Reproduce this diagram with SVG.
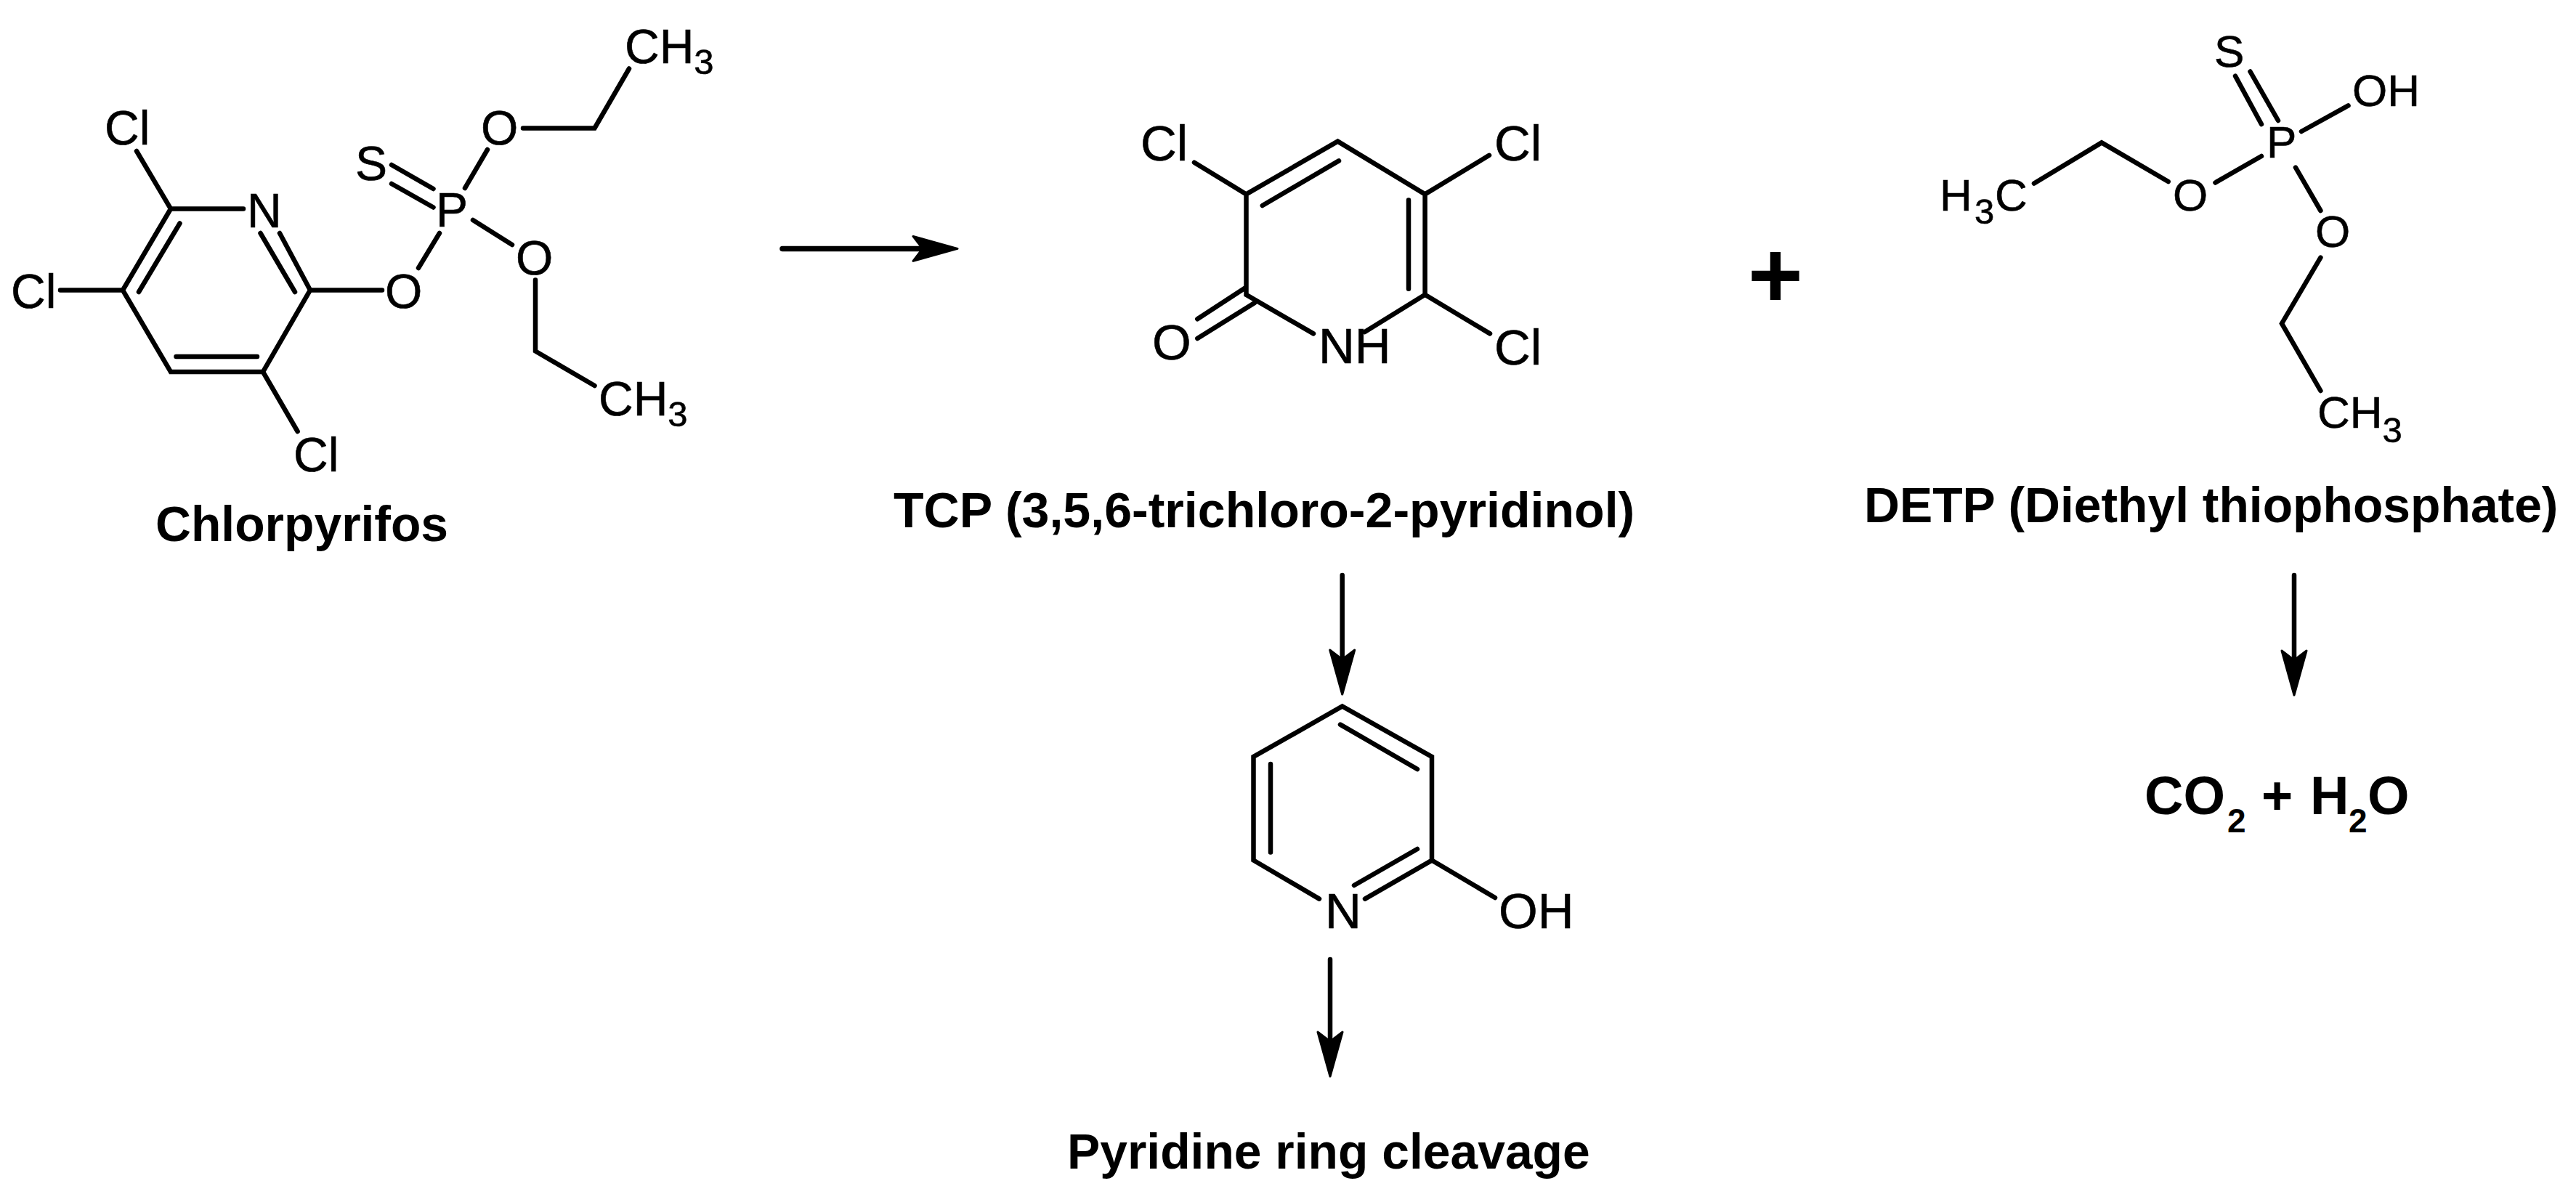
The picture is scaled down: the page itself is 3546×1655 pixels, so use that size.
<svg xmlns="http://www.w3.org/2000/svg" width="3546" height="1655" viewBox="0 0 3546 1655">
<style>
text{font-family:"Liberation Sans",Arial,sans-serif;fill:#000}
.a{font-size:66px;stroke:#000;stroke-width:.6}.b{font-size:62px;stroke:#000;stroke-width:.6}.c{font-size:69px;stroke:#000;stroke-width:.6}
.s{font-size:49px}
.l{font-size:67.8px;font-weight:bold}
.bond{fill:none;stroke:#000;stroke-width:6.5;stroke-linecap:round;stroke-linejoin:miter}
.arrow{fill:none;stroke:#000;stroke-width:6.5;stroke-linecap:round}
</style>
<defs>
<marker id="head" markerUnits="userSpaceOnUse" markerWidth="72" markerHeight="42" viewBox="0 0 72 42" refX="16" refY="21" orient="auto">
<path d="M3,4 L64,21 L3,38 L16,21 Z" fill="#000" stroke="#000" stroke-width="3" stroke-linejoin="round"/>
</marker>
</defs>
<rect width="3546" height="1655" fill="#fff"/>
<g id="chlorpyrifos">
<path class="bond" d="M188,208L235,287.5L335,287.5M235,287.5L169,399.5M247.5,307.5L191,402M83,399.5L169,399.5L235,512L362,512L427,399.5L385,321M242.5,491L354,491M362,512L409.6,594M358.5,321L406,402M427,399.5L526,399.5M576,369L605,321M596.5,260L539,227M596.5,285.5L539,253M640,259L671,206M720,176.5L818.5,176.5L866,94.5M651,303L705,337M737,385.5L737,483.5L818.5,531"/>
<text class="a" x="144" y="199">Cl</text>
<text class="a" x="15" y="424">Cl</text>
<text class="a" x="340" y="313">N</text>
<text class="a" x="600" y="312">P</text>
<text class="a" x="489" y="248">S</text>
<text class="a" x="662" y="199">O</text>
<text class="a" x="860" y="87">CH<tspan class="s" dy="15">3</tspan></text>
<text class="a" x="710" y="378">O</text>
<text class="a" x="530" y="424">O</text>
<text class="a" x="404" y="649">Cl</text>
<text class="a" x="824" y="572">CH<tspan class="s" dy="15">3</tspan></text>
<text class="l" x="214" y="745">Chlorpyrifos</text>
</g>
<g id="tcp">
<path class="bond" d="M1644,223.7L1715.5,267.4L1841.5,194.6L1961.6,267.4L1961.6,405.8L1878.7,457M1737.8,283L1843,221.4M1939,275.4L1939,397.8M2050,213.8L1961.6,267.4M1715.5,267.4L1715.5,405.8L1808,459.4M1714.6,396L1648.3,439.3M1727,417L1648.3,466M1961.6,405.8L2051,459.4"/>
<text class="c" x="1570" y="220.5">Cl</text>
<text class="c" x="2057" y="220.5">Cl</text>
<text class="c" x="1586" y="495">O</text>
<text class="c" x="1815" y="500">NH</text>
<text class="c" x="2057" y="502">Cl</text>
<text class="l" style="font-size:68.1px" x="1230" y="726">TCP (3,5,6-trichloro-2-pyridinol)</text>
</g>
<g id="plus"><text x="2406" y="423" font-size="130" font-weight="bold">+</text></g>
<g id="detp">
<path class="bond" d="M3077,104.6L3113,171M3097.5,98.5L3136,166M3168,181L3232.5,145.4M3113,215L3049.5,251.5M2984.7,250L2893,196.4L2800,252.5M3160,230.6L3194.4,290M3194.4,354.6L3141,445.4L3194.4,538"/>
<text class="b" x="3048" y="92">S</text>
<text class="b" x="3238" y="146.4">OH</text>
<text class="b" x="3120" y="217">P</text>
<text class="b" x="2991" y="290">O</text>
<text class="b" x="2670" y="290">H<tspan class="s" x="2718" dy="18">3</tspan><tspan x="2746" dy="-18">C</tspan></text>
<text class="b" x="3187" y="340">O</text>
<text class="b" x="3190" y="589">CH<tspan class="s" dy="20">3</tspan></text>
<text class="l" x="2566" y="719">DETP (Diethyl thiophosphate)</text>
</g>
<g id="hydroxypyridine">
<path class="bond" d="M1816,1237.6L1725.5,1184.5L1725.5,1042L1847.7,972.5L1971,1042L1971,1184.5L1879,1237.6M1951,1169L1864,1219M1845,997.6L1951,1059M1749,1052L1749,1173.4M1971,1184.5L2058,1236"/>
<text class="c" x="1824" y="1278">N</text>
<text class="c" x="2063" y="1278">OH</text>
</g>
<g id="ring-cleavage"><text class="l" x="1469" y="1608.6">Pyridine ring cleavage</text></g>
<g id="co2-h2o"><text font-size="74" font-weight="bold" x="2952" y="1121">CO<tspan font-size="46" x="3066" dy="25">2</tspan><tspan x="3113" dy="-25">+</tspan><tspan x="3180">H</tspan><tspan font-size="46" x="3233" dy="25">2</tspan><tspan x="3259" dy="-25">O</tspan></text></g>
<g id="connectors">
<path class="arrow" style="stroke-width:7.5" d="M1077,342.4L1270,342.4" marker-end="url(#head)"/>
<path class="arrow" d="M1847.7,792L1847.7,908" marker-end="url(#head)"/>
<path class="arrow" d="M1831,1321L1831,1434" marker-end="url(#head)"/>
<path class="arrow" d="M3158,792L3158,909" marker-end="url(#head)"/>
</g>
</svg>
